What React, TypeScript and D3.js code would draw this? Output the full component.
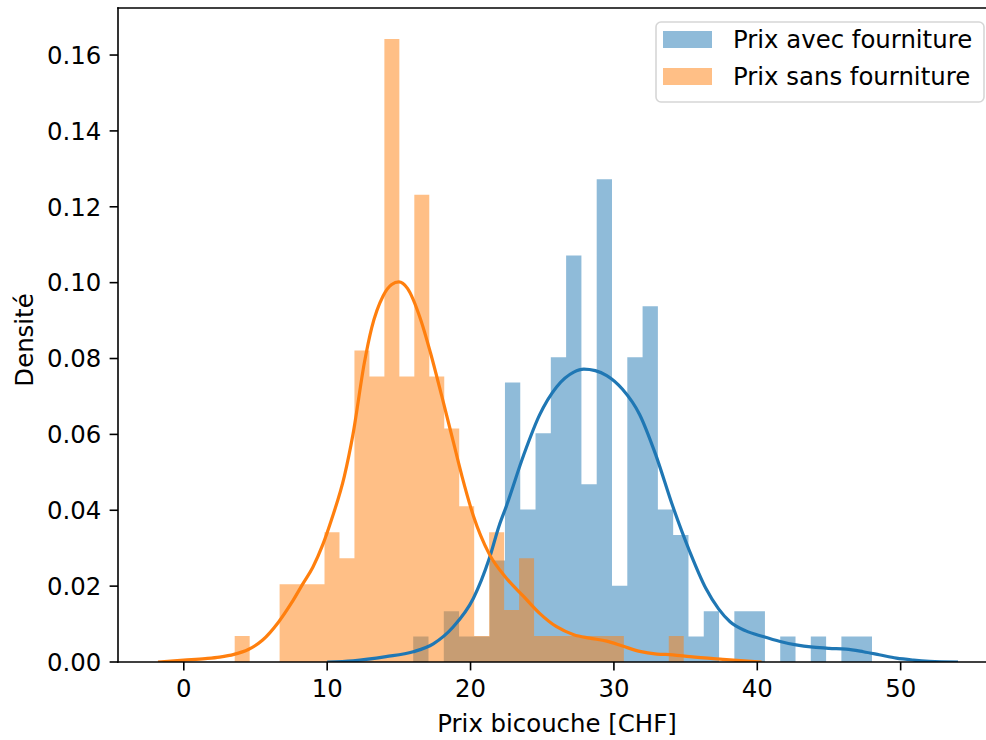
import React from 'react';
import * as d3 from 'd3';

// Canvas and plot frame
const WIDTH = 986;
const HEIGHT = 740;
const PLOT = { left: 118, top: 8, right: 998, bottom: 662 };
const FONT = "'DejaVu Sans', 'Liberation Sans', sans-serif";
const FONT_SIZE = 24.4;

// Series
const seriesNames = ['Prix avec fourniture', 'Prix sans fourniture'];
const seriesColors = ['#1f77b4', '#ff7f0e'];

// Histogram counts (30 equal bins over each series' range)
const avecRange: [number, number] = [16.0, 48.0];
const avecCounts = [1, 0, 2, 1, 1, 4, 11, 6, 9, 12, 16, 7, 19, 3, 12, 14, 6, 5, 1, 2, 0, 2, 2, 0, 1, 0, 1, 0, 1, 1];
const sansRange: [number, number] = [3.55, 34.87];
const sansCounts = [1, 0, 0, 3, 3, 3, 5, 4, 12, 11, 24, 11, 18, 11, 9, 6, 1, 5, 2, 4, 1, 1, 1, 1, 1, 1, 0, 0, 0, 1];

// Kernel density estimates (price, density)
const avecKde: [number, number][] = [
  [10.0, 0], [11.8, 0.0003], [14.1, 0.0014], [16.0, 0.0027], [17.4, 0.0048], [18.8, 0.0093],
  [20.2, 0.0168], [21.3, 0.0272], [22.0, 0.036], [22.5, 0.0411], [23.7, 0.0545], [24.8, 0.065],
  [26.0, 0.0725], [27.2, 0.0764], [27.9, 0.0772], [28.7, 0.0768], [29.5, 0.0755], [30.6, 0.0719],
  [31.8, 0.0652], [32.9, 0.0548], [34.1, 0.0411], [35.3, 0.029], [36.4, 0.0195], [37.3, 0.014],
  [38.1, 0.0106], [39.2, 0.0082], [40.4, 0.0067], [41.6, 0.0054], [42.7, 0.0045], [43.9, 0.0039],
  [45.0, 0.0036], [46.2, 0.0034], [47.4, 0.0027], [48.5, 0.0019], [49.7, 0.001], [50.9, 0.0005],
  [52.0, 0.0002], [54.0, 0],
];
const sansKde: [number, number][] = [
  [-1.8, 0], [0, 0.0005], [1.5, 0.0009], [2.5, 0.0013], [3.5, 0.002], [4.5, 0.0033], [5.5, 0.0058],
  [6.6, 0.0105], [7.5, 0.0155], [8.3, 0.0206], [9.0, 0.025], [9.7, 0.031], [10.3, 0.0375],
  [11.2, 0.049], [11.8, 0.06], [12.6, 0.079], [13.1, 0.088], [13.9, 0.0965], [14.5, 0.0995],
  [15.0, 0.1002], [15.6, 0.0985], [16.5, 0.0905], [17.2, 0.0816], [18.0, 0.07], [18.8, 0.058],
  [19.4, 0.049], [20.2, 0.0385], [21.3, 0.0285], [22.5, 0.0221], [23.7, 0.0173], [24.8, 0.0129],
  [26.0, 0.0093], [27.2, 0.0072], [28.3, 0.0063], [29.5, 0.0055], [30.6, 0.0042], [31.8, 0.0028],
  [33.0, 0.0021], [34.1, 0.0019], [35.3, 0.0014], [37.6, 0.0007], [40.3, 0],
];

// Axes
const xLimits: [number, number] = [-4.59, 56.79];
const yLimits: [number, number] = [0, 0.1724];
const xTicks = [0, 10, 20, 30, 40, 50];
const yTicks = [0, 0.02, 0.04, 0.06, 0.08, 0.1, 0.12, 0.14, 0.16];
const xLabel = 'Prix bicouche [CHF]';
const yLabel = 'Densité';

type Bin = { x0: number; x1: number; density: number };

function densityBins(counts: number[], range: [number, number]): Bin[] {
  const w = (range[1] - range[0]) / counts.length;
  const n = d3.sum(counts);
  return counts.map((c, i) => ({
    x0: range[0] + i * w,
    x1: range[0] + (i + 1) * w,
    density: c / (n * w),
  }));
}

export default function App() {
  const x = d3.scaleLinear().domain(xLimits).range([PLOT.left, PLOT.right]);
  const y = d3.scaleLinear().domain(yLimits).range([PLOT.bottom, PLOT.top]);

  const hists = [densityBins(avecCounts, avecRange), densityBins(sansCounts, sansRange)];
  const kdes = [avecKde, sansKde];

  // All bars of one series go into a single path so adjacent bars share edges without seams
  const barsPath = (bins: Bin[]) => {
    const p = d3.path();
    bins
      .filter((b) => b.density > 0)
      .forEach((b) => {
        p.rect(x(b.x0), y(b.density), x(b.x1) - x(b.x0), y(0) - y(b.density));
      });
    return p.toString();
  };

  const line = d3
    .line<[number, number]>()
    .x((d) => x(d[0]))
    .y((d) => y(d[1]))
    .curve(d3.curveMonotoneX);

  const tickLen = 8.4;
  const tickPad = 8.4;
  const axisStroke = 1.6;

  return (
    <svg
      width={WIDTH}
      height={HEIGHT}
      style={{ position: 'absolute', left: 0, top: 0, background: '#fff' }}
      fontFamily={FONT}
      fontSize={FONT_SIZE}
    >
      <defs>
        <clipPath id="plot-area">
          <rect x={PLOT.left} y={PLOT.top} width={PLOT.right - PLOT.left} height={PLOT.bottom - PLOT.top} />
        </clipPath>
      </defs>

      <g clipPath="url(#plot-area)">
        {/* histogram bars */}
        {hists.map((bins, si) => (
          <path key={si} d={barsPath(bins)} fill={seriesColors[si]} fillOpacity={0.5} />
        ))}

        {/* density curves */}
        {kdes.map((pts, si) => (
          <path
            key={si}
            d={line(pts) || ''}
            fill="none"
            stroke={seriesColors[si]}
            strokeWidth={3.2}
            strokeLinejoin="round"
            strokeLinecap="butt"
          />
        ))}
      </g>

      {/* frame */}
      <g stroke="#000" strokeWidth={axisStroke} fill="none" strokeLinecap="square">
        <line x1={PLOT.left} x2={PLOT.left} y1={PLOT.top} y2={PLOT.bottom} />
        <line x1={PLOT.left} x2={PLOT.right} y1={PLOT.bottom} y2={PLOT.bottom} />
        <line x1={PLOT.left} x2={PLOT.right} y1={PLOT.top} y2={PLOT.top} />
        <line x1={PLOT.right} x2={PLOT.right} y1={PLOT.top} y2={PLOT.bottom} />
      </g>

      {/* x axis */}
      <g>
        {xTicks.map((t) => (
          <g key={t} transform={`translate(${x(t)},${PLOT.bottom})`}>
            <line y1={0} y2={tickLen} stroke="#000" strokeWidth={axisStroke} />
            <text y={tickLen + tickPad} dy="0.76em" textAnchor="middle" fill="#000">
              {d3.format('d')(t)}
            </text>
          </g>
        ))}
        <text x={557} y={732} textAnchor="middle" fill="#000">
          {xLabel}
        </text>
      </g>

      {/* y axis */}
      <g>
        {yTicks.map((t) => (
          <g key={t} transform={`translate(${PLOT.left},${y(t)})`}>
            <line x1={-tickLen} x2={0} stroke="#000" strokeWidth={axisStroke} />
            <text x={-tickLen - tickPad} dy="0.36em" textAnchor="end" fill="#000">
              {d3.format('.2f')(t)}
            </text>
          </g>
        ))}
        <text transform={`translate(33,340) rotate(-90)`} textAnchor="middle" fill="#000">
          {yLabel}
        </text>
      </g>

      {/* legend */}
      <g>
        <rect
          x={656}
          y={22}
          width={328}
          height={80}
          rx={5}
          fill="#fff"
          fillOpacity={0.8}
          stroke="#d6d6d6"
          strokeWidth={1.6}
        />
        {seriesNames.map((name, i) => (
          <g key={name} transform={`translate(0,${i * 37})`}>
            <rect x={663} y={31} width={49} height={17} fill={seriesColors[i]} fillOpacity={0.5} />
            <text x={733} y={48} fill="#000">
              {name}
            </text>
          </g>
        ))}
      </g>
    </svg>
  );
}
